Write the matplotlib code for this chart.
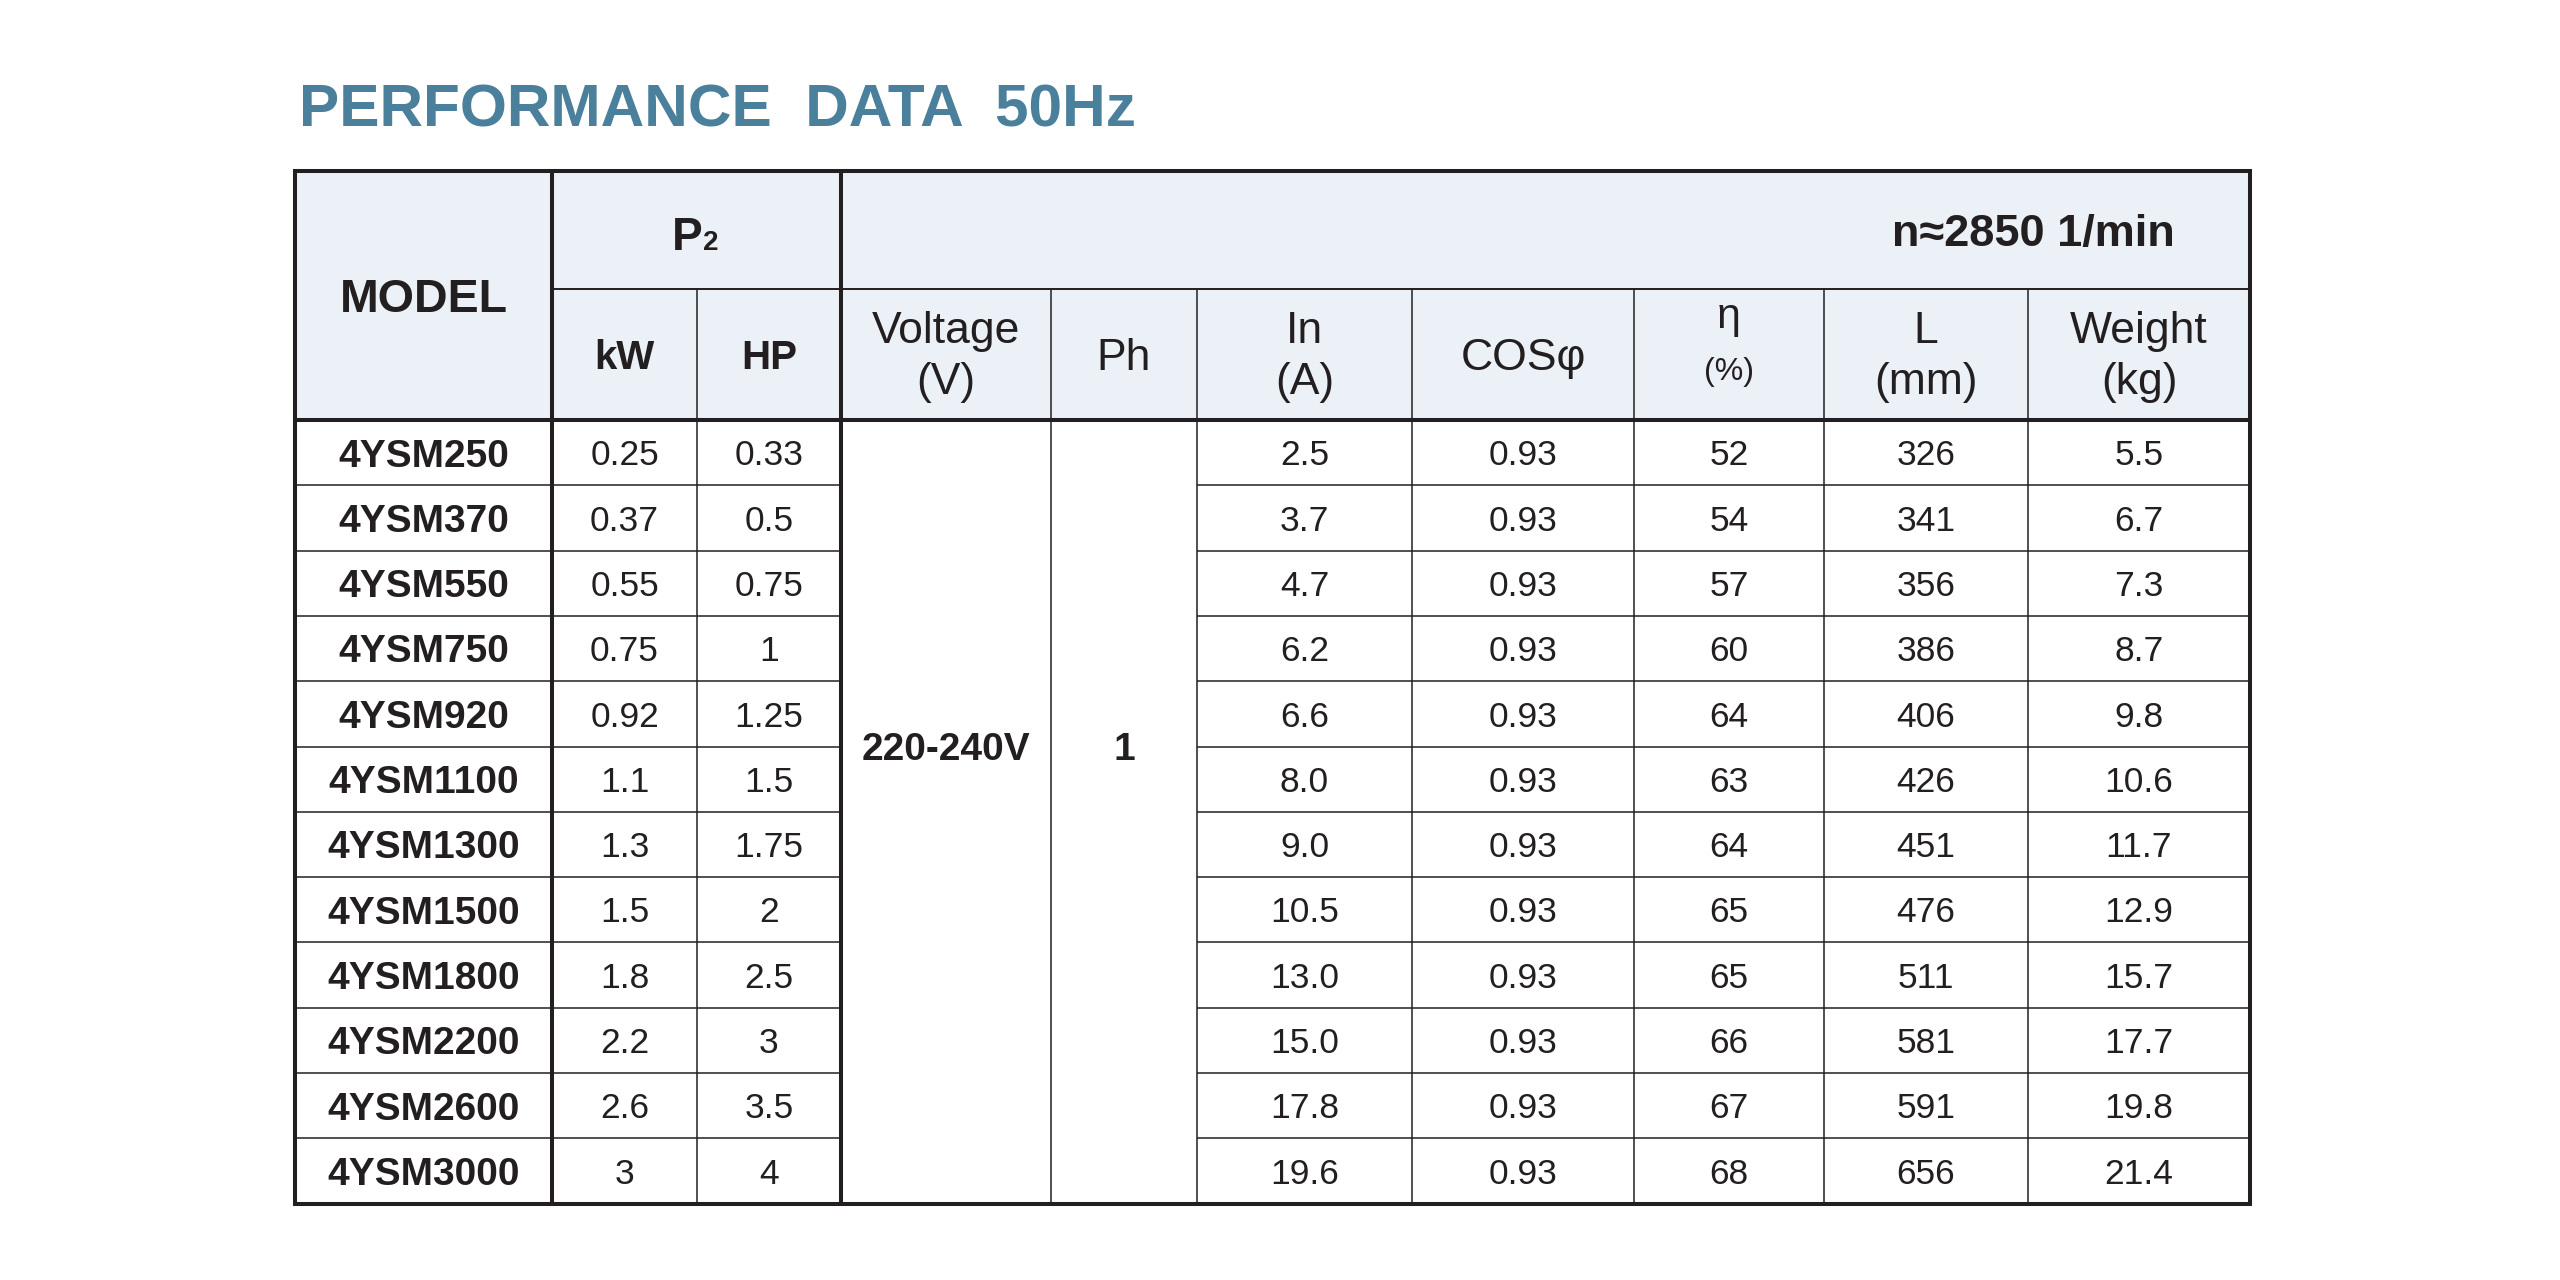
import matplotlib.pyplot as plt
from matplotlib.patches import Rectangle

plt.rcParams['font.family'] = ['Liberation Sans', 'DejaVu Sans']

# table content
title = "PERFORMANCE  DATA  50Hz"
speed_label = "n\u22482850 1/min"
models = ["4YSM250", "4YSM370", "4YSM550", "4YSM750", "4YSM920", "4YSM1100",
          "4YSM1300", "4YSM1500", "4YSM1800", "4YSM2200", "4YSM2600", "4YSM3000"]
power_kw = [0.25, 0.37, 0.55, 0.75, 0.92, 1.1, 1.3, 1.5, 1.8, 2.2, 2.6, 3]
power_hp = [0.33, 0.5, 0.75, 1, 1.25, 1.5, 1.75, 2, 2.5, 3, 3.5, 4]
voltage = "220-240V"
phase = "1"
current_a = [2.5, 3.7, 4.7, 6.2, 6.6, 8.0, 9.0, 10.5, 13.0, 15.0, 17.8, 19.6]
cos_phi = [0.93, 0.93, 0.93, 0.93, 0.93, 0.93, 0.93, 0.93, 0.93, 0.93, 0.93, 0.93]
efficiency = [52, 54, 57, 60, 64, 63, 64, 65, 65, 66, 67, 68]
length_mm = [326, 341, 356, 386, 406, 426, 451, 476, 511, 581, 591, 656]
weight_kg = [5.5, 6.7, 7.3, 8.7, 9.8, 10.6, 11.7, 12.9, 15.7, 17.7, 19.8, 21.4]

# layout (pixels)
INK = '#231f20'
TITLE_BLUE = '#4a809b'
HEAD_BG = '#ebf1f6'
col_edges = [295, 552, 697, 841, 1051, 1197, 1412, 1634, 1824, 2028, 2250]
top, mid, head_bottom = 171, 289, 420
row_h = 65.3
n_rows = len(models)
bottom = head_bottom + n_rows * row_h
THICK, THIN = 2.9, 1.1

fig = plt.figure(figsize=(25.6, 12.8), dpi=100)
ax = fig.add_axes([0, 0, 1, 1])
ax.set_xlim(0, 2560)
ax.set_ylim(1280, 0)
ax.axis('off')


def put(x, y, s, size, bold=False, color=INK, ha='center'):
    # y is the middle of the capitals, shift down to the baseline
    base = y + 0.358 * size * 100 / 72
    ax.text(x, base, s, fontsize=size, fontweight='bold' if bold else 'normal',
            color=color, ha=ha, va='baseline')


def cx(i):
    return (col_edges[i] + col_edges[i + 1]) / 2


# header background
ax.add_patch(Rectangle((col_edges[0], top), col_edges[-1] - col_edges[0],
                       head_bottom - top, color=HEAD_BG, lw=0, zorder=0))

# title
put(299, 105, title, 43.5, bold=True, color=TITLE_BLUE, ha='left')

# header text
hc = (mid + head_bottom) / 2
put(cx(0), (top + head_bottom) / 2, "MODEL", 33.5, bold=True)
put(672, 234, "P", 33, bold=True, ha='left')
ax.text(703, 250, "2", fontsize=20, fontweight='bold', color=INK, ha='left', va='baseline')
put(col_edges[-1] - 75, (top + mid) / 2, speed_label, 32.5, bold=True, ha='right')
put(cx(1), hc, "kW", 29, bold=True)
put(cx(2), hc, "HP", 29, bold=True)
two_line = {3: ("Voltage", "(V)"), 5: ("In", "(A)"), 8: ("L", "(mm)"), 9: ("Weight", "(kg)")}
for i, (a, b) in two_line.items():
    put(cx(i), hc - 27, a, 32)
    put(cx(i), hc + 24, b, 32)
put(cx(4), hc, "Ph", 32)
put(cx(6), hc, "COS\u03c6", 32)
put(cx(7), hc - 42, "\u03b7", 31)
put(cx(7), hc + 14, "(%)", 23)

# data rows
for r in range(n_rows):
    y = head_bottom + (r + 0.5) * row_h
    put(cx(0), y, models[r], 28, bold=True)
    put(cx(1), y, f"{power_kw[r]:g}", 25.5)
    put(cx(2), y, f"{power_hp[r]:g}", 25.5)
    put(cx(5), y, f"{current_a[r]:.1f}", 25.5)
    put(cx(6), y, f"{cos_phi[r]:.2f}", 25.5)
    put(cx(7), y, f"{efficiency[r]}", 25.5)
    put(cx(8), y, f"{length_mm[r]}", 25.5)
    put(cx(9), y, f"{weight_kg[r]:.1f}", 25.5)

# merged voltage / phase cells
vy = head_bottom + 5 * row_h
put(cx(3), vy, voltage, 28, bold=True)
put(cx(4), vy, phase, 28, bold=True)

# grid lines
ax.hlines(mid, col_edges[1], col_edges[-1], color=INK, lw=1.4)
for i in [2, 4, 5, 6, 7, 8, 9]:
    ax.vlines(col_edges[i], mid, bottom, color=INK, lw=THIN)
for r in range(1, n_rows):
    y = head_bottom + r * row_h
    ax.hlines(y, col_edges[0], col_edges[3], color=INK, lw=THIN)
    ax.hlines(y, col_edges[5], col_edges[-1], color=INK, lw=THIN)
ax.hlines(head_bottom, col_edges[0], col_edges[-1], color=INK, lw=THICK)
for i in [1, 3]:
    ax.vlines(col_edges[i], top, bottom, color=INK, lw=THICK)
ax.add_patch(Rectangle((col_edges[0], top), col_edges[-1] - col_edges[0], bottom - top,
                       fill=False, ec=INK, lw=THICK, joinstyle='miter', zorder=3))

fig.savefig('out.png', dpi=100)
